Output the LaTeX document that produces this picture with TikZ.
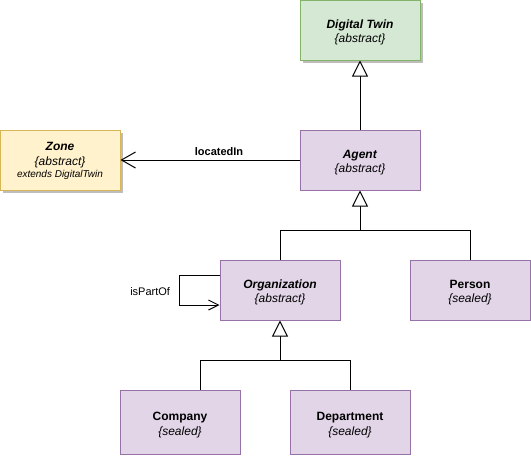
\documentclass[tikz,border=0pt]{standalone}
\usepackage{fontspec}
\setmainfont{Liberation Sans}
\usetikzlibrary{arrows.meta,calc}
\definecolor{agfill}{HTML}{E1D5E7}
\definecolor{agstroke}{HTML}{9673A6}
\definecolor{dtfill}{HTML}{D5E8D4}
\definecolor{dtstroke}{HTML}{82B366}
\definecolor{znfill}{HTML}{FFF2CC}
\definecolor{znstroke}{HTML}{D6B656}
\definecolor{shadowc}{HTML}{BDBDBD}
\begin{document}
\begin{tikzpicture}[x=1pt,y=-1pt,
  cls/.style={draw=agstroke, fill=agfill, line width=1pt, minimum width=120pt, minimum height=60pt, inner sep=0pt},
  txt/.style={align=center, inner sep=0pt, font=\fontsize{12}{14.5}\selectfont},
  inh/.style={line width=1pt, -{Triangle[width=16pt,length=16pt,fill=white,line width=1pt]}},
  assoc/.style={line width=1pt, -{Straight Barb[length=14pt,width=16pt,line width=1pt]}},
  selfassoc/.style={line width=1pt, -{Straight Barb[length=10pt,width=10pt,line width=1pt]}},
  lbl/.style={font=\fontsize{11}{13}\selectfont, inner sep=1pt}
]
\useasboundingbox (0,0) rectangle (531,456);
% shadows
\fill[shadowc] (303,3) rectangle (423,63);
\fill[shadowc] (3,133) rectangle (123,193);
% boxes
\node[cls, draw=dtstroke, fill=dtfill] (dt) at (360,30) {};
\node[cls] (agent) at (360,160) {};
\node[cls, draw=znstroke, fill=znfill] (zone) at (60,160) {};
\node[cls] (org) at (280,290) {};
\node[cls] (person) at (470,290) {};
\node[cls, minimum height=64pt] (company) at (180,422) {};
\node[cls, minimum height=64pt] (dept) at (350,422) {};
% texts
\node[txt] (dt-t) at ($(dt)+(0,2.5)$) {\textbf{\textit{Digital Twin}}\\\textit{\{abstract\}}};
\node[txt] (agent-t) at ($(agent)+(0,2.5)$) {\textbf{\textit{Agent}}\\\textit{\{abstract\}}};
\node[txt] (zone-t) at ($(zone)+(0,1)$) {\textbf{\textit{Zone}}\\\textit{\{abstract\}}\\[-2pt]{\fontsize{10}{12}\selectfont\textit{extends DigitalTwin}}};
\node[txt] (org-t) at ($(org)+(0,2.5)$) {\textbf{\textit{Organization}}\\\textit{\{abstract\}}};
\node[txt] (person-t) at ($(person)+(0,2.5)$) {\textbf{Person}\\\textit{\{sealed\}}};
\node[txt] (company-t) at ($(company)+(0,3)$) {\textbf{Company}\\\textit{\{sealed\}}};
\node[txt] (dept-t) at ($(dept)+(0,3)$) {\textbf{Department}\\\textit{\{sealed\}}};
\coordinate (j1) at (360,230);
\coordinate (j2) at (280,360);
% edges
\draw[inh] (agent.north) -- (dt.south);
\draw[inh] (org.north) |- (j1) -- (agent.south);
\draw[line width=1pt] (person.north) |- (j1);
\draw[inh] (dept.north) |- (j2) -- (org.south);
\draw[line width=1pt] ($(company.north)+(20,0)$) |- (j2);
\draw[assoc] (agent.west) -- node[lbl, above, yshift=3pt, xshift=9pt, font=\fontsize{11}{13}\selectfont\bfseries] {locatedIn} (zone.east);
\draw[selfassoc] ($(org.west)+(0,-15)$) -- ++(-40,0) -- node[lbl, left, xshift=-8pt, yshift=-2pt] {isPartOf} ++(0,30) -- ($(org.west)+(0,15)$);
\end{tikzpicture}
\end{document}
